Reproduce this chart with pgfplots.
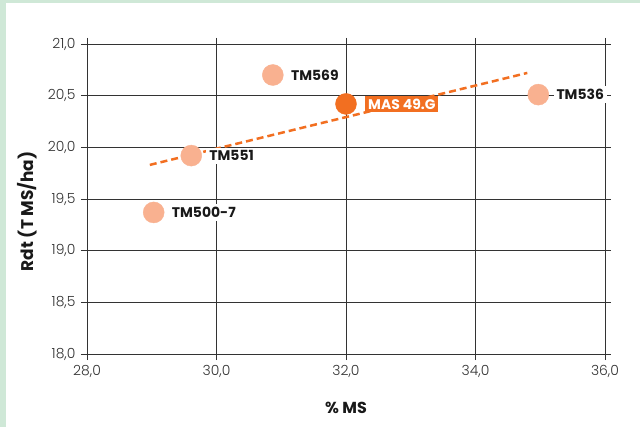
\documentclass[border=0pt]{standalone}
\usepackage{fontspec}
\setmainfont{Poppins}
\newfontfamily\lightfont{Poppins Light}
\usepackage{pgfplots}
\pgfplotsset{compat=1.18}
\usetikzlibrary{backgrounds}
\definecolor{bgGreen}{HTML}{CFE8D7}
\definecolor{salmon}{HTML}{F9B190}
\definecolor{mas}{HTML}{F26F21}
\definecolor{gridc}{HTML}{333333}

\begin{document}
\begin{tikzpicture}
\begin{axis}[
  name=ax,
  at={(0,0)}, anchor=south west,
  scale only axis, width=518bp, height=310bp,
  xmin=28, xmax=36, ymin=18, ymax=21,
  xtick={28,30,32,34,36},
  ytick={18,18.5,19,19.5,20,20.5,21},
  grid=major,
  grid style={gridc, line width=0.7bp},
  axis line style={gridc, line width=0.7bp},
  tick style={gridc, line width=0.7bp},
  tick align=outside, major tick length=6bp,
  clip=false,
  /pgf/number format/.cd, fixed, fixed zerofill, precision=1, use comma, assume math mode=true,
  /pgfplots/.cd,
  ticklabel style={font=\lightfont\fontsize{14}{14}\selectfont, text=gridc},
  xticklabel style={yshift=-2bp},
  yticklabel style={xshift=-2bp},
  xlabel={\% MS},
  ylabel={Rdt (T MS/ha)},
  xlabel style={at={(axis description cs:0.5,-0.174)}, anchor=center, font=\bfseries\fontsize{16}{16}\selectfont, text=black!90},
  ylabel style={at={(axis description cs:-0.115,0.46)}, anchor=center, rotate=0, font=\bfseries\fontsize{17}{17}\selectfont, text=black!90},
]
% trend line
\addplot[mas, line width=2.5bp, dash pattern=on 7bp off 4bp] coordinates {(28.97,19.83) (34.80,20.72)};
% other varieties
\addplot[salmon, only marks, mark=*, mark size=10.5bp,
  point meta=explicit symbolic, nodes near coords,
  nodes near coords style={anchor=west, xshift=15bp, fill=white, inner sep=3bp,
    font=\bfseries\fontsize{14}{14}\selectfont, text=black!90}]
  coordinates {
    (30.87,20.70) [TM569]
    (34.97,20.51) [TM536]
    (29.61,19.92) [TM551]
    (29.03,19.37) [TM500-7]
  };
% MAS 49.G
\addplot[mas, only marks, mark=*, mark size=10.5bp,
  point meta=explicit symbolic, nodes near coords,
  nodes near coords style={anchor=west, xshift=19bp, fill=mas, inner sep=3bp,
    font=\bfseries\fontsize{14}{14}\selectfont, text=white}]
  coordinates {
    (32.00,20.42) [MAS 49.G]
  };
\end{axis}
\begin{pgfonlayer}{background}
\fill[bgGreen] ([shift={(-87bp,-73bp)}]ax.south west) rectangle +(640bp,427bp);
\fill[white] ([shift={(-81bp,-73bp)}]ax.south west) rectangle +(634bp,424bp);
\end{pgfonlayer}
\pgfresetboundingbox
\path[use as bounding box] ([shift={(-87bp,-73bp)}]ax.south west) rectangle +(640bp,427bp);
\end{tikzpicture}
\end{document}
